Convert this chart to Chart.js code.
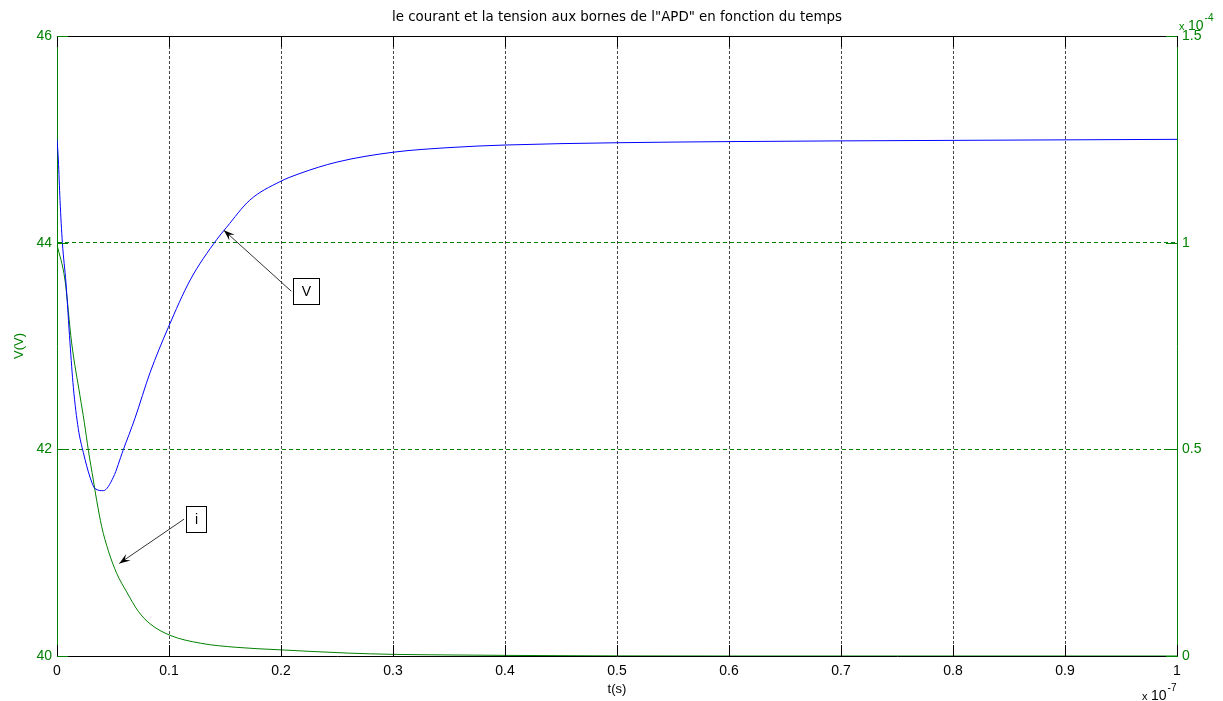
<!DOCTYPE html>
<html>
<head>
<meta charset="utf-8">
<script src="https://cdn.jsdelivr.net/npm/chart.js@4.4.1/dist/chart.umd.min.js"></script>
<style>
html, body { margin: 0; padding: 0; background: #fff; }
#wrap { width: 1223px; height: 701px; }
</style>
</head>
<body>
<div id="wrap"><canvas id="chart"></canvas></div>
<script>
// time in units of 1e-7 s
const timeV = [0, 0.0012, 0.0027, 0.0048, 0.008, 0.0116, 0.0146, 0.019, 0.0235, 0.0295, 0.034, 0.0414, 0.0503, 0.059, 0.0696, 0.083, 0.0994, 0.119, 0.1426, 0.1515, 0.172, 0.199, 0.217, 0.25, 0.3, 0.35, 0.4, 0.5, 0.6, 0.7, 0.8, 0.9, 1.0];
const voltage = [45.0, 44.8, 44.41, 44.0, 43.61, 43.03, 42.6, 42.2, 41.97, 41.73, 41.62, 41.6, 41.73, 41.99, 42.3, 42.74, 43.18, 43.64, 44.03, 44.15, 44.41, 44.59, 44.67, 44.78, 44.875, 44.92, 44.945, 44.967, 44.978, 44.985, 44.99, 44.995, 45.0];

// current in units of 1e-4 A
const timeI = [0, 0.0071, 0.0131, 0.0205, 0.0244, 0.028, 0.0324, 0.0354, 0.0399, 0.0458, 0.0533, 0.0622, 0.0726, 0.083, 0.101, 0.128, 0.16, 0.199, 0.26, 0.3, 0.35, 0.4, 0.45, 0.5, 0.6, 0.8, 1.0];
const current = [0.995, 0.91, 0.757, 0.63, 0.565, 0.498, 0.426, 0.377, 0.313, 0.255, 0.2, 0.155, 0.108, 0.078, 0.05, 0.031, 0.021, 0.015, 0.007, 0.004, 0.0025, 0.0015, 0.0008, 0.0003, 0, 0, 0];

const timeTicks = [0, 0.1, 0.2, 0.3, 0.4, 0.5, 0.6, 0.7, 0.8, 0.9, 1];
const voltTicks = [40, 42, 44, 46];
const currTicks = [0, 0.5, 1, 1.5];

// text boxes with arrows: [t, value] of the arrow tip and of the box's left middle
const notes = [
    { text: 'V', axis: 'y', tip: [0.149, 44.12], box: [0.211, 43.53] },
    { text: 'i', axis: 'y2', tip: [0.0556, 0.224], box: [0.1152, 0.331] }
];

const GREEN = '#008000';
const FONT = 'Liberation Sans';
const NONE = 'rgba(0,0,0,0)';
const fmt = v => String(Math.round(v * 100) / 100);

const frame = {
    id: 'frame',
    afterDatasetsDraw(chart) {
        const ctx = chart.ctx;
        const a = chart.chartArea;
        const sx = chart.scales.x, sy = chart.scales.y, sy2 = chart.scales.y2;
        ctx.save();
        ctx.lineWidth = 1;
        // top border
        ctx.strokeStyle = '#000';
        ctx.beginPath();
        ctx.moveTo(a.left, a.top + 0.5);
        ctx.lineTo(a.right, a.top + 0.5);
        ctx.stroke();
        // inward tick marks
        sx.ticks.forEach(t => {
            const x = Math.round(sx.getPixelForValue(t.value)) + 0.5;
            ctx.beginPath();
            ctx.moveTo(x, a.bottom); ctx.lineTo(x, a.bottom - 11);
            ctx.moveTo(x, a.top); ctx.lineTo(x, a.top + 11);
            ctx.stroke();
        });
        ctx.strokeStyle = GREEN;
        sy.ticks.forEach(t => {
            const y = Math.round(sy.getPixelForValue(t.value)) + 0.5;
            ctx.beginPath();
            ctx.moveTo(a.left, y); ctx.lineTo(a.left + 11, y);
            ctx.stroke();
        });
        sy2.ticks.forEach(t => {
            const y = Math.round(sy2.getPixelForValue(t.value)) + 0.5;
            ctx.beginPath();
            ctx.moveTo(a.right, y); ctx.lineTo(a.right - 11, y);
            ctx.stroke();
        });

        // annotations
        notes.forEach(n => {
            const ys = chart.scales[n.axis];
            const tx = sx.getPixelForValue(n.tip[0]), ty = ys.getPixelForValue(n.tip[1]);
            const bx = sx.getPixelForValue(n.box[0]), by = ys.getPixelForValue(n.box[1]);
            ctx.font = '14px ' + FONT;
            const w = Math.round(ctx.measureText(n.text).width + 17);
            const h = 26;
            const sx0 = bx - 2, sy0 = by;
            ctx.strokeStyle = '#333';
            ctx.beginPath();
            ctx.moveTo(sx0, sy0);
            ctx.lineTo(tx, ty);
            ctx.stroke();
            const ang = Math.atan2(ty - sy0, tx - sx0);
            const L = 11, W = 4;
            ctx.fillStyle = '#000';
            ctx.beginPath();
            ctx.moveTo(tx, ty);
            ctx.lineTo(tx - L * Math.cos(ang) + W * Math.sin(ang), ty - L * Math.sin(ang) - W * Math.cos(ang));
            ctx.lineTo(tx - 0.6 * L * Math.cos(ang), ty - 0.6 * L * Math.sin(ang));
            ctx.lineTo(tx - L * Math.cos(ang) - W * Math.sin(ang), ty - L * Math.sin(ang) + W * Math.cos(ang));
            ctx.closePath();
            ctx.fill();
            const rx = Math.round(bx) + 0.5, ry = Math.round(by - h / 2) + 0.5;
            ctx.fillStyle = '#fff';
            ctx.fillRect(rx, ry, w, h);
            ctx.strokeStyle = '#000';
            ctx.strokeRect(rx, ry, w, h);
            ctx.fillStyle = '#000';
            ctx.textAlign = 'center';
            ctx.textBaseline = 'middle';
            ctx.fillText(n.text, rx + w / 2, ry + h / 2 + 1);
        });

        // exponent labels
        const expo = (x, y, base, ex, color) => {
            ctx.fillStyle = color;
            ctx.textAlign = 'left';
            ctx.textBaseline = 'alphabetic';
            ctx.font = '11px ' + FONT;
            ctx.fillText('x', x, y);
            ctx.font = '14px ' + FONT;
            ctx.fillText(base, x + 9, y);
            const bw = ctx.measureText(base).width;
            ctx.font = '10px ' + FONT;
            ctx.fillText(ex, x + 10 + bw, y - 9);
        };
        expo(a.right + 2, a.top - 6, '10', '-4', GREEN);
        expo(a.right - 35, a.bottom + 44, '10', '-7', '#000');
        ctx.restore();
    }
};

new Chart(document.getElementById('chart'), {
    type: 'line',
    data: {
        datasets: [{
            label: 'V',
            data: timeV.map((t, k) => ({ x: t, y: voltage[k] })),
            yAxisID: 'y',
            borderColor: '#0000ff',
            borderWidth: 1,
            pointRadius: 0,
            cubicInterpolationMode: 'monotone',
            fill: false
        }, {
            label: 'i',
            data: timeI.map((t, k) => ({ x: t, y: current[k] })),
            yAxisID: 'y2',
            borderColor: GREEN,
            borderWidth: 1,
            pointRadius: 0,
            cubicInterpolationMode: 'monotone',
            fill: false
        }]
    },
    options: {
        responsive: true,
        maintainAspectRatio: false,
        animation: false,
        devicePixelRatio: 1,
        layout: { padding: 0 },
        plugins: {
            legend: { display: false },
            tooltip: { enabled: false },
            title: {
                display: true,
                fullSize: false,
                text: 'le courant et la tension aux bornes de l"APD" en fonction du temps',
                color: '#000',
                font: { family: 'DejaVu Sans', size: 13.4, weight: 'normal' },
                padding: { top: 9, bottom: 10.92 }
            }
        },
        scales: {
            x: {
                type: 'linear',
                min: 0,
                max: 1,
                afterBuildTicks: s => { s.ticks = timeTicks.map(v => ({ value: v })); },
                afterFit: s => { s.height = 45; },
                ticks: { color: '#000', font: { family: FONT, size: 14 }, padding: 7, callback: fmt, maxRotation: 0, autoSkip: false },
                grid: {
                    drawTicks: false,
                    color: timeTicks.map((v, k) => (k === 0 || k === timeTicks.length - 1) ? NONE : '#444'),
                    lineWidth: 1
                },
                border: { color: '#000', width: 1, dash: [3, 2] },
                title: { display: true, text: 't(s)', color: '#000', font: { family: FONT, size: 13 }, padding: { top: 0, bottom: 4 } }
            },
            y: {
                position: 'left',
                min: 40,
                max: 46,
                afterBuildTicks: s => { s.ticks = voltTicks.map(v => ({ value: v })); },
                afterFit: s => { s.width = 57; },
                ticks: { color: GREEN, font: { family: FONT, size: 14 }, padding: 5, callback: fmt },
                grid: {
                    drawTicks: false,
                    color: voltTicks.map((v, k) => (k === 0 || k === voltTicks.length - 1) ? NONE : GREEN),
                    lineWidth: 1
                },
                border: { color: GREEN, width: 1, dash: [4, 3] },
                title: { display: true, text: 'V(V)', color: GREEN, font: { family: FONT, size: 13 }, padding: { top: 12, bottom: 0 } }
            },
            y2: {
                position: 'right',
                min: 0,
                max: 1.5,
                afterBuildTicks: s => { s.ticks = currTicks.map(v => ({ value: v })); },
                afterFit: s => { s.width = 46; },
                ticks: { color: GREEN, font: { family: FONT, size: 14 }, padding: 5, callback: fmt },
                grid: { display: false, drawTicks: false },
                border: { color: GREEN, width: 1 }
            }
        }
    },
    plugins: [frame]
});
</script>
</body>
</html>
